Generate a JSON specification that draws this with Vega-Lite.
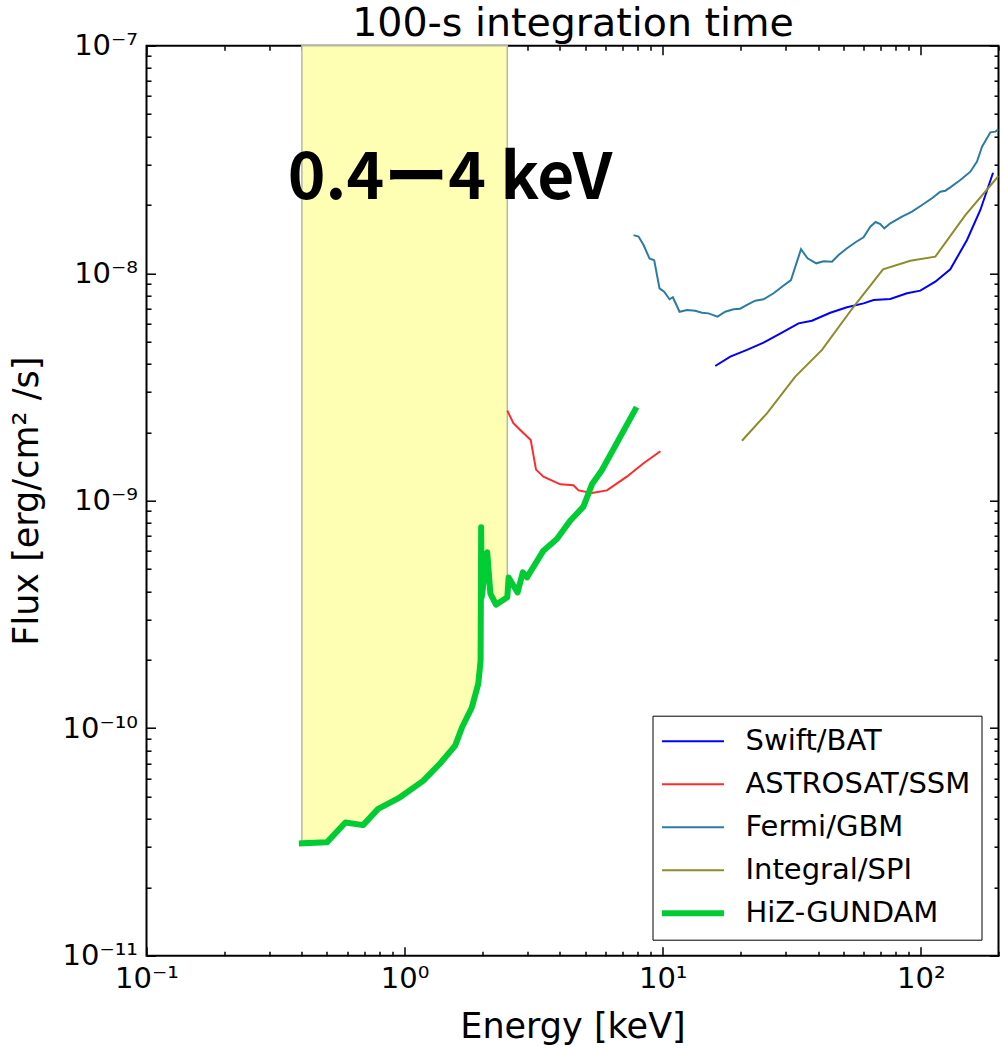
{
  "$schema": "https://vega.github.io/schema/vega-lite/v6.json",
  "width": 852,
  "height": 910,
  "autosize": {"type": "none"},
  "padding": {"left": 146.5, "top": 45.7, "right": 6.5, "bottom": 92.3},
  "background": "white",
  "config": {
    "view": {"stroke": "black", "strokeWidth": 2},
    "font": "DejaVu Sans",
    "axis": {
      "domain": false, "grid": false,
      "labelFont": "DejaVu Sans", "labelFontSize": 29, "labelColor": "black",
      "tickColor": "black", "tickWidth": 1.5,
      "titleFont": "DejaVu Sans", "titleFontSize": 35, "titleFontWeight": "normal", "titleColor": "black",
      "labelFlush": false, "labelOverlap": false
    }
  },
  "datasets": {
    "curves": [
      {"inst": "Swift/BAT", "E": 15.98, "F": 3.91e-9},
      {"inst": "Swift/BAT", "E": 18.27, "F": 4.30e-9},
      {"inst": "Swift/BAT", "E": 21.21, "F": 4.60e-9},
      {"inst": "Swift/BAT", "E": 24.59, "F": 4.95e-9},
      {"inst": "Swift/BAT", "E": 28.97, "F": 5.48e-9},
      {"inst": "Swift/BAT", "E": 33.60, "F": 6.02e-9},
      {"inst": "Swift/BAT", "E": 37.87, "F": 6.18e-9},
      {"inst": "Swift/BAT", "E": 44.6, "F": 6.70e-9},
      {"inst": "Swift/BAT", "E": 51.76, "F": 7.08e-9},
      {"inst": "Swift/BAT", "E": 60.0, "F": 7.37e-9},
      {"inst": "Swift/BAT", "E": 65.63, "F": 7.62e-9},
      {"inst": "Swift/BAT", "E": 76.18, "F": 7.70e-9},
      {"inst": "Swift/BAT", "E": 88.4, "F": 8.16e-9},
      {"inst": "Swift/BAT", "E": 99.6, "F": 8.38e-9},
      {"inst": "Swift/BAT", "E": 113.8, "F": 9.18e-9},
      {"inst": "Swift/BAT", "E": 130.1, "F": 1.04e-8},
      {"inst": "Swift/BAT", "E": 151.0, "F": 1.40e-8},
      {"inst": "Swift/BAT", "E": 170.1, "F": 1.896e-8},
      {"inst": "Swift/BAT", "E": 190.5, "F": 2.765e-8},
      {"inst": "ASTROSAT/SSM", "E": 2.5, "F": 2.49e-9},
      {"inst": "ASTROSAT/SSM", "E": 2.64, "F": 2.19e-9},
      {"inst": "ASTROSAT/SSM", "E": 2.80, "F": 2.05e-9},
      {"inst": "ASTROSAT/SSM", "E": 3.08, "F": 1.85e-9},
      {"inst": "ASTROSAT/SSM", "E": 3.23, "F": 1.37e-9},
      {"inst": "ASTROSAT/SSM", "E": 3.45, "F": 1.275e-9},
      {"inst": "ASTROSAT/SSM", "E": 4.01, "F": 1.18e-9},
      {"inst": "ASTROSAT/SSM", "E": 4.51, "F": 1.17e-9},
      {"inst": "ASTROSAT/SSM", "E": 4.72, "F": 1.11e-9},
      {"inst": "ASTROSAT/SSM", "E": 5.32, "F": 1.08e-9},
      {"inst": "ASTROSAT/SSM", "E": 6.08, "F": 1.11e-9},
      {"inst": "ASTROSAT/SSM", "E": 7.26, "F": 1.275e-9},
      {"inst": "ASTROSAT/SSM", "E": 8.43, "F": 1.46e-9},
      {"inst": "ASTROSAT/SSM", "E": 9.8, "F": 1.65e-9},
      {"inst": "Fermi/GBM", "E": 7.71, "F": 1.47e-8},
      {"inst": "Fermi/GBM", "E": 8.06, "F": 1.45e-8},
      {"inst": "Fermi/GBM", "E": 8.43, "F": 1.33e-8},
      {"inst": "Fermi/GBM", "E": 8.89, "F": 1.16e-8},
      {"inst": "Fermi/GBM", "E": 9.27, "F": 1.14e-8},
      {"inst": "Fermi/GBM", "E": 9.72, "F": 8.58e-9},
      {"inst": "Fermi/GBM", "E": 10.13, "F": 8.29e-9},
      {"inst": "Fermi/GBM", "E": 10.63, "F": 7.68e-9},
      {"inst": "Fermi/GBM", "E": 10.95, "F": 7.84e-9},
      {"inst": "Fermi/GBM", "E": 11.62, "F": 6.77e-9},
      {"inst": "Fermi/GBM", "E": 12.41, "F": 6.89e-9},
      {"inst": "Fermi/GBM", "E": 13.37, "F": 6.84e-9},
      {"inst": "Fermi/GBM", "E": 14.19, "F": 6.70e-9},
      {"inst": "Fermi/GBM", "E": 15.05, "F": 6.66e-9},
      {"inst": "Fermi/GBM", "E": 16.31, "F": 6.44e-9},
      {"inst": "Fermi/GBM", "E": 17.47, "F": 6.77e-9},
      {"inst": "Fermi/GBM", "E": 18.81, "F": 6.94e-9},
      {"inst": "Fermi/GBM", "E": 19.97, "F": 6.98e-9},
      {"inst": "Fermi/GBM", "E": 21.21, "F": 7.25e-9},
      {"inst": "Fermi/GBM", "E": 22.83, "F": 7.57e-9},
      {"inst": "Fermi/GBM", "E": 24.59, "F": 7.68e-9},
      {"inst": "Fermi/GBM", "E": 26.89, "F": 8.16e-9},
      {"inst": "Fermi/GBM", "E": 29.24, "F": 8.78e-9},
      {"inst": "Fermi/GBM", "E": 31.40, "F": 9.33e-9},
      {"inst": "Fermi/GBM", "E": 34.34, "F": 1.274e-8},
      {"inst": "Fermi/GBM", "E": 36.41, "F": 1.163e-8},
      {"inst": "Fermi/GBM", "E": 39.36, "F": 1.105e-8},
      {"inst": "Fermi/GBM", "E": 42.02, "F": 1.128e-8},
      {"inst": "Fermi/GBM", "E": 45.27, "F": 1.123e-8},
      {"inst": "Fermi/GBM", "E": 48.02, "F": 1.202e-8},
      {"inst": "Fermi/GBM", "E": 51.76, "F": 1.287e-8},
      {"inst": "Fermi/GBM", "E": 56.23, "F": 1.375e-8},
      {"inst": "Fermi/GBM", "E": 60.0, "F": 1.438e-8},
      {"inst": "Fermi/GBM", "E": 63.74, "F": 1.601e-8},
      {"inst": "Fermi/GBM", "E": 66.81, "F": 1.679e-8},
      {"inst": "Fermi/GBM", "E": 69.66, "F": 1.645e-8},
      {"inst": "Fermi/GBM", "E": 72.2, "F": 1.575e-8},
      {"inst": "Fermi/GBM", "E": 76.18, "F": 1.657e-8},
      {"inst": "Fermi/GBM", "E": 84.56, "F": 1.772e-8},
      {"inst": "Fermi/GBM", "E": 92.45, "F": 1.864e-8},
      {"inst": "Fermi/GBM", "E": 101.1, "F": 1.995e-8},
      {"inst": "Fermi/GBM", "E": 110.5, "F": 2.134e-8},
      {"inst": "Fermi/GBM", "E": 119.0, "F": 2.282e-8},
      {"inst": "Fermi/GBM", "E": 124.5, "F": 2.305e-8},
      {"inst": "Fermi/GBM", "E": 130.1, "F": 2.385e-8},
      {"inst": "Fermi/GBM", "E": 142.3, "F": 2.569e-8},
      {"inst": "Fermi/GBM", "E": 155.6, "F": 2.794e-8},
      {"inst": "Fermi/GBM", "E": 165.1, "F": 3.092e-8},
      {"inst": "Fermi/GBM", "E": 172.7, "F": 3.597e-8},
      {"inst": "Fermi/GBM", "E": 186.0, "F": 4.161e-8},
      {"inst": "Fermi/GBM", "E": 194.5, "F": 4.19e-8},
      {"inst": "Fermi/GBM", "E": 200, "F": 4.29e-8},
      {"inst": "Integral/SPI", "E": 20.28, "F": 1.835e-9},
      {"inst": "Integral/SPI", "E": 25.34, "F": 2.42e-9},
      {"inst": "Integral/SPI", "E": 32.63, "F": 3.51e-9},
      {"inst": "Integral/SPI", "E": 41.41, "F": 4.60e-9},
      {"inst": "Integral/SPI", "E": 54.9, "F": 7.12e-9},
      {"inst": "Integral/SPI", "E": 71.4, "F": 1.04e-8},
      {"inst": "Integral/SPI", "E": 91.07, "F": 1.135e-8},
      {"inst": "Integral/SPI", "E": 113.8, "F": 1.182e-8},
      {"inst": "Integral/SPI", "E": 148.8, "F": 1.80e-8},
      {"inst": "Integral/SPI", "E": 200, "F": 2.675e-8},
      {"inst": "HiZ-GUNDAM", "E": 0.4, "F": 3.12e-11},
      {"inst": "HiZ-GUNDAM", "E": 0.5, "F": 3.15e-11},
      {"inst": "HiZ-GUNDAM", "E": 0.59, "F": 3.85e-11},
      {"inst": "HiZ-GUNDAM", "E": 0.69, "F": 3.75e-11},
      {"inst": "HiZ-GUNDAM", "E": 0.79, "F": 4.42e-11},
      {"inst": "HiZ-GUNDAM", "E": 0.96, "F": 4.97e-11},
      {"inst": "HiZ-GUNDAM", "E": 1.18, "F": 5.87e-11},
      {"inst": "HiZ-GUNDAM", "E": 1.37, "F": 6.98e-11},
      {"inst": "HiZ-GUNDAM", "E": 1.57, "F": 8.38e-11},
      {"inst": "HiZ-GUNDAM", "E": 1.67, "F": 1.01e-10},
      {"inst": "HiZ-GUNDAM", "E": 1.82, "F": 1.23e-10},
      {"inst": "HiZ-GUNDAM", "E": 1.93, "F": 1.57e-10},
      {"inst": "HiZ-GUNDAM", "E": 1.97, "F": 1.98e-10},
      {"inst": "HiZ-GUNDAM", "E": 1.98, "F": 7.64e-10},
      {"inst": "HiZ-GUNDAM", "E": 1.99, "F": 3.76e-10},
      {"inst": "HiZ-GUNDAM", "E": 2.09, "F": 5.93e-10},
      {"inst": "HiZ-GUNDAM", "E": 2.15, "F": 3.9e-10},
      {"inst": "HiZ-GUNDAM", "E": 2.26, "F": 3.49e-10},
      {"inst": "HiZ-GUNDAM", "E": 2.5, "F": 3.76e-10},
      {"inst": "HiZ-GUNDAM", "E": 2.53, "F": 4.6e-10},
      {"inst": "HiZ-GUNDAM", "E": 2.74, "F": 3.95e-10},
      {"inst": "HiZ-GUNDAM", "E": 2.87, "F": 4.84e-10},
      {"inst": "HiZ-GUNDAM", "E": 2.98, "F": 4.6e-10},
      {"inst": "HiZ-GUNDAM", "E": 3.45, "F": 6.03e-10},
      {"inst": "HiZ-GUNDAM", "E": 3.89, "F": 6.79e-10},
      {"inst": "HiZ-GUNDAM", "E": 4.38, "F": 8.16e-10},
      {"inst": "HiZ-GUNDAM", "E": 4.93, "F": 9.42e-10},
      {"inst": "HiZ-GUNDAM", "E": 5.32, "F": 1.18e-9},
      {"inst": "HiZ-GUNDAM", "E": 5.81, "F": 1.36e-9},
      {"inst": "HiZ-GUNDAM", "E": 7.82, "F": 2.51e-9}
    ],
    "note": [{"label": "0.4ー4 keV", "E": 1.5, "F": 2.12e-8}]
  },
  "layer": [
    {
      "data": {"name": "curves"},
      "transform": [{"filter": "datum.inst == 'HiZ-GUNDAM' && datum.E <= 2.5"}],
      "mark": {"type": "area", "fill": "#ffffb3", "stroke": "#b8b8a0", "strokeWidth": 1.5, "interpolate": "linear"},
      "encoding": {
        "x": {"field": "E", "type": "quantitative",
          "scale": {"type": "log", "domain": [0.1, 200], "nice": false},
          "axis": {"orient": "bottom", "title": "Energy [keV]", "titlePadding": 11, "labelPadding": 18,
            "values": [0.1, 0.2, 0.3, 0.4, 0.5, 0.6, 0.7, 0.8, 0.9, 1, 2, 3, 4, 5, 6, 7, 8, 9, 10, 20, 30, 40, 50, 60, 70, 80, 90, 100, 200],
            "tickSize": {"condition": {"test": "abs(log(datum.value)/LN10 - round(log(datum.value)/LN10)) < 1e-6", "value": -9}, "value": -4.5},
            "labelExpr": "datum.value == 0.1 ? '10⁻¹' : datum.value == 1 ? '10⁰' : datum.value == 10 ? '10¹' : datum.value == 100 ? '10²' : ''"}},
        "y": {"field": "F", "type": "quantitative",
          "scale": {"type": "log", "domain": [1e-11, 1e-7], "nice": false},
          "axis": {"orient": "left", "title": "Flux [erg/cm² /s]", "titlePadding": 18, "labelPadding": 18,
            "values": [1e-11, 2e-11, 3e-11, 4e-11, 5e-11, 6e-11, 7e-11, 8e-11, 9e-11, 1e-10, 2e-10, 3e-10, 4e-10, 5e-10, 6e-10, 7e-10, 8e-10, 9e-10, 1e-9, 2e-9, 3e-9, 4e-9, 5e-9, 6e-9, 7e-9, 8e-9, 9e-9, 1e-8, 2e-8, 3e-8, 4e-8, 5e-8, 6e-8, 7e-8, 8e-8, 9e-8, 1e-7],
            "tickSize": {"condition": {"test": "abs(log(datum.value)/LN10 - round(log(datum.value)/LN10)) < 1e-6", "value": -9}, "value": -4.5},
            "labelExpr": "datum.value == 1e-11 ? '10⁻¹¹' : datum.value == 1e-10 ? '10⁻¹⁰' : datum.value == 1e-9 ? '10⁻⁹' : datum.value == 1e-8 ? '10⁻⁸' : datum.value == 1e-7 ? '10⁻⁷' : ''"}},
        "y2": {"datum": 1e-7}
      }
    },
    {
      "data": {"name": "curves"},
      "transform": [{"filter": "datum.inst != 'HiZ-GUNDAM'"}],
      "mark": {"type": "line", "interpolate": "linear", "clip": true, "strokeWidth": 2},
      "encoding": {
        "x": {"field": "E", "type": "quantitative",
          "scale": {"type": "log", "domain": [0.1, 200], "nice": false},
          "axis": {"orient": "top", "title": "100-s integration time", "titleFontSize": 39.5, "titleBaseline": "alphabetic", "titlePadding": 9, "labels": false,
            "values": [0.1, 0.2, 0.3, 0.4, 0.5, 0.6, 0.7, 0.8, 0.9, 1, 2, 3, 4, 5, 6, 7, 8, 9, 10, 20, 30, 40, 50, 60, 70, 80, 90, 100, 200],
            "tickSize": {"condition": {"test": "abs(log(datum.value)/LN10 - round(log(datum.value)/LN10)) < 1e-6", "value": -9}, "value": -4.5}}},
        "y": {"field": "F", "type": "quantitative",
          "scale": {"type": "log", "domain": [1e-11, 1e-7], "nice": false},
          "axis": {"orient": "right", "title": null, "labels": false,
            "values": [1e-11, 2e-11, 3e-11, 4e-11, 5e-11, 6e-11, 7e-11, 8e-11, 9e-11, 1e-10, 2e-10, 3e-10, 4e-10, 5e-10, 6e-10, 7e-10, 8e-10, 9e-10, 1e-9, 2e-9, 3e-9, 4e-9, 5e-9, 6e-9, 7e-9, 8e-9, 9e-9, 1e-8, 2e-8, 3e-8, 4e-8, 5e-8, 6e-8, 7e-8, 8e-8, 9e-8, 1e-7],
            "tickSize": {"condition": {"test": "abs(log(datum.value)/LN10 - round(log(datum.value)/LN10)) < 1e-6", "value": -9}, "value": -4.5}}},
        "color": {"field": "inst", "type": "nominal",
          "scale": {"domain": ["Swift/BAT", "ASTROSAT/SSM", "Fermi/GBM", "Integral/SPI", "HiZ-GUNDAM"],
                    "range": ["#0000ff", "#ff2a2a", "#2b7ca3", "#8c8c2a", "#00cc33"]},
          "legend": {"title": null, "orient": "none", "legendX": 506, "legendY": 670,
            "symbolType": "M-2,0L2,0", "symbolSize": 961, "symbolOffset": 15, "symbolStrokeWidth": {"expr": "datum.value == 'HiZ-GUNDAM' ? 6 : 2"},
            "labelFontSize": 29, "labelFont": "DejaVu Sans", "labelColor": "black",
            "labelOffset": 38, "rowPadding": 13, "padding": 11, "strokeColor": "black", "fillColor": "white", "cornerRadius": 0, "labelLimit": 400}}
      }
    },
    {
      "data": {"name": "curves"},
      "transform": [{"filter": "datum.inst == 'HiZ-GUNDAM'"}],
      "mark": {"type": "line", "interpolate": "linear", "clip": true, "strokeWidth": 6, "strokeCap": "square", "strokeJoin": "round"},
      "encoding": {
        "x": {"field": "E", "type": "quantitative", "scale": {"type": "log", "domain": [0.1, 200], "nice": false}, "axis": null},
        "y": {"field": "F", "type": "quantitative", "scale": {"type": "log", "domain": [1e-11, 1e-7], "nice": false}, "axis": null},
        "color": {"field": "inst", "type": "nominal",
          "scale": {"domain": ["Swift/BAT", "ASTROSAT/SSM", "Fermi/GBM", "Integral/SPI", "HiZ-GUNDAM"],
                    "range": ["#0000ff", "#ff2a2a", "#2b7ca3", "#8c8c2a", "#00cc33"]},
          "legend": null}
      }
    },
    {
      "data": {"name": "note"},
      "mark": {"type": "text", "font": "Noto Sans CJK JP", "fontWeight": "bold", "fontSize": 64, "align": "center", "baseline": "alphabetic", "color": "black"},
      "encoding": {
        "x": {"field": "E", "type": "quantitative", "scale": {"type": "log", "domain": [0.1, 200], "nice": false}, "axis": null},
        "y": {"field": "F", "type": "quantitative", "scale": {"type": "log", "domain": [1e-11, 1e-7], "nice": false}, "axis": null},
        "text": {"field": "label"}
      }
    }
  ],
  "resolve": {"axis": {"x": "independent", "y": "independent"}}
}
